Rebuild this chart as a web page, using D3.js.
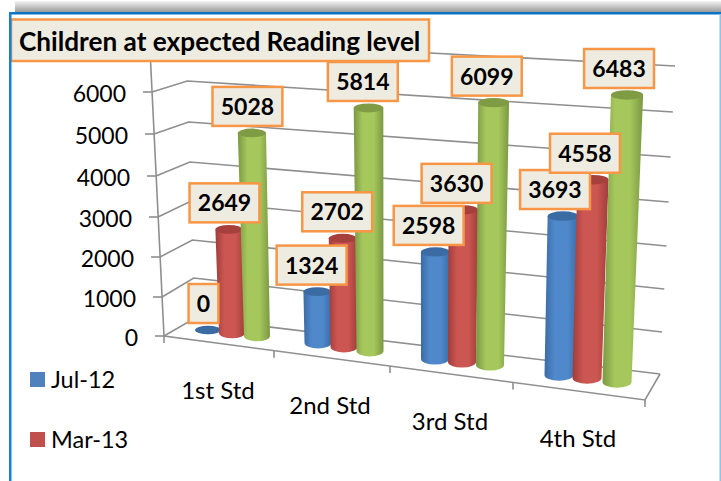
<!DOCTYPE html>
<html><head><meta charset="utf-8">
<script src="https://cdn.jsdelivr.net/npm/d3@7/dist/d3.min.js"></script>
<style>html,body{margin:0;padding:0;background:#fff}svg{display:block}text{font-family:Lato,"Open Sans",sans-serif}</style>
</head><body><svg id="c" width="721" height="481"></svg>
<script>
const titleText = "Children at expected Reading level";
const categories = ["1st Std","2nd Std","3rd Std","4th Std"];
const legendNames = ["Jul-12","Mar-13"];
const seriesA = [0,1324,2598,3693];
const seriesB = [2649,2702,3630,4558];
const seriesC = [5028,5814,6099,6483];
const yTicks = [0,1000,2000,3000,4000,5000,6000,7000];
const yLabels = [0,1000,2000,3000,4000,5000,6000];
const seriesColors = [
 {edge:"#3a6ba6",mid:"#5089cb",cap:"#3a6ba3",key:"#4F81BD"},
 {edge:"#a03d3a",mid:"#cc5652",cap:"#a5403d",key:"#C0504D"},
 {edge:"#7a9843",mid:"#a5c75c",cap:"#7f9c45",key:"#9BBB59"}];
const svg = d3.select("#c");
const defs = svg.append("defs");
const I=[0,1,2,3];
// perspective guide scales
const frontY = d3.scaleLinear().domain(yTicks).range([336,297,257,217,176,134,92,50]);
const frontX = d3.scaleLinear().domain([0,7000]).range([164,150]);
const backLY = d3.scaleLinear().domain(yTicks).range([318,278,240,201,162,122,81,40]);
const backLX = d3.scaleLinear().domain([0,7000]).range([195,186]);
const backRY = d3.scaleLinear().domain(yTicks).range([374,332,289,246,202,157,112,66]);
const backRX = d3.scaleLinear().domain([0,7000]).range([660,675]);
const floorRight = [645,400];
const catTicks = d3.scaleLinear().domain([0,1,2,3,4]).range([164,274,390,513,645]);
const floorY = d3.scaleLinear().domain([164,645]).range([336,400]);
// bar placement scales
const baseX = [[208,318,435,559],[232,344,462,587],[257,370,490,617]].map(r=>d3.scaleLinear().domain(I).range(r));
const baseY = [[330,343,359,375],[333,347,362,378],[336,351,365,382]].map(r=>d3.scaleLinear().domain(I).range(r));
const tallest = d3.scaleLinear().domain([0,3]).range([244.5,264.6]);
const barH = (v,c)=>d3.scalePow().exponent(1.05).domain([0,6000]).range([0,tallest(c)])(v);
const lean = d3.scaleLinear().domain([257,617]).range([-0.025,0.035]);
const radius = d3.scaleLinear().domain([0,3]).range([13,14.5]);
const labelDx = d3.scaleLinear().domain([0,3]).range([-4.5,-8]);

// page frame
const sh = defs.append("linearGradient").attr("id","sh").attr("x1",0).attr("x2",0).attr("y1",0).attr("y2",1);
sh.append("stop").attr("offset",0).attr("stop-color","#f4f4f4");
sh.append("stop").attr("offset",1).attr("stop-color","#9a9a9a");
svg.append("rect").attr("x",15).attr("y",1).attr("width",706).attr("height",11).attr("fill","url(#sh)");
svg.append("rect").attr("x",10).attr("y",13).attr("width",720).attr("height",480).attr("fill","#fff");

// walls
const grid = svg.append("g").attr("fill","none").attr("stroke","#8f8f8f").attr("stroke-width",1.6);
yTicks.forEach(t=>{
  grid.append("path").attr("d",d3.line()([[frontX(t),frontY(t)],[backLX(t),backLY(t)],[backRX(t),backRY(t)]]));
});
grid.append("path").attr("d",d3.line()([[frontX(7000),frontY(7000)],[frontX(0),frontY(0)],floorRight,[backRX(0),backRY(0)]]));
yLabels.forEach(t=>grid.append("path").attr("d",d3.line()([[frontX(t)-9,frontY(t)],[frontX(t),frontY(t)]])));
d3.range(5).forEach(i=>{const x=catTicks(i);grid.append("path").attr("d",d3.line()([[x,floorY(x)],[x,floorY(x)+7]]));});

// axis labels
svg.append("g").selectAll("text").data(yLabels).join("text")
 .attr("x",d=>frontX(d)-26).attr("y",d=>frontY(d)+9.5).attr("text-anchor","end")
 .attr("font-size",23).attr("fill","#000").text(d=>d);
const catLabelX = d3.scaleLinear().domain(I).range([218,330,450,578]);
const catLabelY = d3.scaleLinear().domain(I).range([399,414,430,447]);
svg.append("g").selectAll("text").data(categories).join("text")
 .attr("x",(d,i)=>catLabelX(i)).attr("y",(d,i)=>catLabelY(i)).attr("text-anchor","middle")
 .attr("font-size",24).attr("fill","#000").text(d=>d);

// cylinders
[0,1,2].forEach(s=>{
  const g = defs.append("linearGradient").attr("id","g"+s);
  [[0,"edge"],[.3,"mid"],[.68,"mid"],[1,"edge"]].forEach(([o,k])=>g.append("stop").attr("offset",o).attr("stop-color",seriesColors[s][k]));
});
const bars = I.flatMap(c=>[0,1,2].map(s=>{
  const v=[seriesA,seriesB,seriesC][s][c];
  const bx=baseX[s](c), by=baseY[s](c), h=barH(v,c);
  const tx=bx+lean(bx)*h, ty=by-h, r=radius(c);
  return {c,s,v,bx,by,tx,ty,r};
}));
const barG = svg.append("g");
bars.forEach(b=>{
  const ry=b.r*0.33, tr=b.r*(1+b.v/60000);
  const g=barG.append("g");
  if(b.v>0){
    g.append("path").attr("fill",`url(#g${b.s})`).attr("d",
     `M${b.bx-b.r},${b.by} A${b.r},${ry+1} 0 0 0 ${b.bx+b.r},${b.by} L${b.tx+tr},${b.ty} L${b.tx-tr},${b.ty} Z`);
  }
  g.append("ellipse").attr("cx",b.tx).attr("cy",b.ty).attr("rx",tr).attr("ry",ry).attr("fill",seriesColors[b.s].cap);
});

// data labels
const labels = svg.append("g");
[0,1,2].forEach(s=>bars.filter(b=>b.s===s).forEach(b=>{
  const g=labels.append("g").attr("transform",`translate(${b.tx+labelDx(b.c)},${b.ty-26.5})`);
  const r=g.append("rect");
  const t=g.append("text").attr("text-anchor","middle").attr("y",8.5).attr("font-size",23).attr("font-weight",700).attr("fill","#000").text(b.v);
  const w=t.node().getComputedTextLength()+16.5;
  r.attr("x",-w/2).attr("y",-19.5).attr("width",w).attr("height",39).attr("fill","#EEECE1").attr("stroke","#F79646").attr("stroke-width",2.5);
}));

// title
const tg = svg.append("g");
tg.append("rect").attr("x",11).attr("y",19.5).attr("width",418).attr("height",41.5).attr("fill","#EEECE1").attr("stroke","#F79646").attr("stroke-width",2.5);
tg.append("text").attr("x",19).attr("y",50.5).attr("font-size",26.2).attr("font-weight",700).attr("fill","#000").text(titleText);

// legend
const legY = d3.scaleLinear().domain([0,1]).range([379.5,439.5]);
const leg = svg.append("g");
legendNames.forEach((n,i)=>{
  leg.append("rect").attr("x",30).attr("y",legY(i)-7.5).attr("width",15).attr("height",15).attr("fill",seriesColors[i].key);
  leg.append("text").attr("x",51).attr("y",legY(i)+8).attr("font-size",23.5).attr("fill","#000").text(n);
});

// frame border on top
const frame = svg.append("g");
frame.append("rect").attr("x",9).attr("y",12).attr("width",712).attr("height",2.5).attr("fill","#0b72c4");
frame.append("rect").attr("x",9).attr("y",12).attr("width",2.5).attr("height",469).attr("fill","#1282d8");
frame.append("rect").attr("x",719.5).attr("y",14).attr("width",1.5).attr("height",467).attr("fill","#8cc4ee");
</script></body></html>
